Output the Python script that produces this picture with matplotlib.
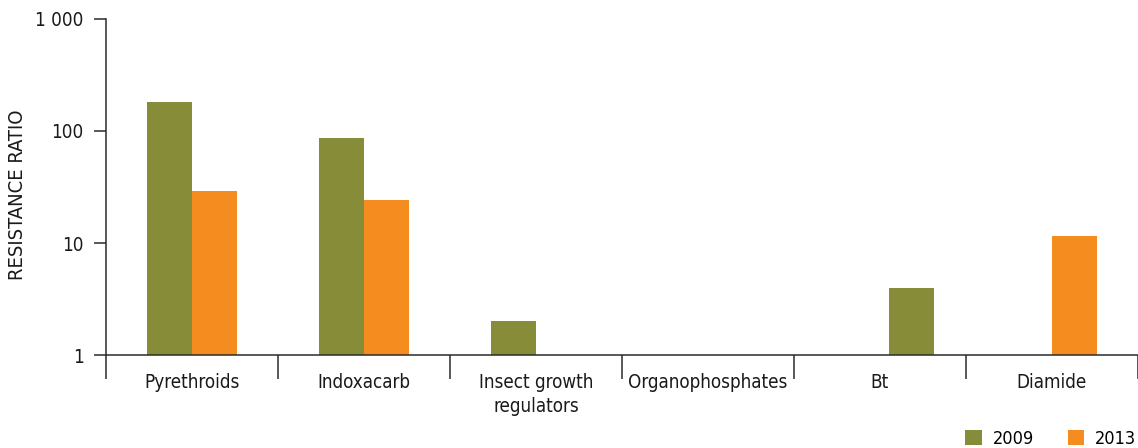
import numpy as np
import matplotlib
matplotlib.use("Agg")
import matplotlib.pyplot as plt
from matplotlib.patches import Patch
from matplotlib.ticker import FixedLocator, NullLocator, NullFormatter

# Resistance ratios by insecticide class (NaN = not measured)
categories = ["Pyrethroids", "Indoxacarb", "Insect growth\nregulators",
              "Organophosphates", "Bt", "Diamide"]
ratio_2009 = [180, 87, 2.0, np.nan, 4.0, np.nan]
ratio_2013 = [29, 24, np.nan, np.nan, np.nan, 11.5]
series_labels = ["2009", "2013"]
ytick_values = [1, 10, 100, 1000]
ytick_labels = ["1", "10", "100", "1 000"]

GREEN = "#868C38"
ORANGE = "#F58C20"
AXIS = "#2b2b2b"
TEXT = "#1a1a1a"
FS = 13.5

plt.rcParams["font.family"] = ["DejaVu Sans"]
plt.rcParams["font.stretch"] = "condensed"

W, H = 1138, 448
fig = plt.figure(figsize=(W / 100, H / 100), dpi=100)
left, right, top, bottom = 106, 1138, 19, 355
cat_px = 173.2
ax = fig.add_axes([left / W, (H - bottom) / H, (right - left) / W, (bottom - top) / H])

ax.set_yscale("log")
ax.set_ylim(1, 1000)
ax.set_xlim(0, (right - left) / cat_px)

bar_w = 0.263
centers = np.arange(len(categories)) + 0.5
# left edge of each 2009 bar relative to the category centre, in bar widths
slot_2009 = [-1, -1, -1, -1, 0.2, -1]

for i, (c, v) in enumerate(zip(centers, ratio_2009)):
    if np.isfinite(v):
        ax.bar(c + slot_2009[i] * bar_w, v - 1, bottom=1, width=bar_w,
               align="edge", color=GREEN, linewidth=0)
for c, v in zip(centers, ratio_2013):
    if np.isfinite(v):
        ax.bar(c, v - 1, bottom=1, width=bar_w, align="edge", color=ORANGE, linewidth=0)

for s in ["top", "right"]:
    ax.spines[s].set_visible(False)
for s in ["left", "bottom"]:
    ax.spines[s].set_color(AXIS)
    ax.spines[s].set_linewidth(1.1)

# y axis
ax.yaxis.set_major_locator(FixedLocator(ytick_values))
ax.set_yticklabels(ytick_labels)
ax.yaxis.set_minor_locator(NullLocator())
ax.yaxis.set_minor_formatter(NullFormatter())
ax.tick_params(axis="y", which="major", length=9, width=1.1, color=AXIS,
               pad=7, labelsize=FS, labelcolor=TEXT)

# x axis: separators as major ticks, category names as minor tick labels
ax.set_xticks(np.arange(len(categories) + 1))
ax.set_xticklabels([""] * (len(categories) + 1))
ax.set_xticks(centers, minor=True)
ax.set_xticklabels(categories, minor=True)
ax.tick_params(axis="x", which="major", length=17, width=1.1, color=AXIS, direction="out")
ax.tick_params(axis="x", which="minor", length=0, pad=13, labelsize=FS,
               labelcolor=TEXT)
for lbl in ax.get_xticklabels(minor=True):
    lbl.set_linespacing(1.35)

fig.text(18 / W, 1 - 195 / H, "RESISTANCE RATIO", rotation=90, ha="center",
         va="center", fontsize=14.5, color=TEXT)

handles = [Patch(facecolor=GREEN, edgecolor="none"),
           Patch(facecolor=ORANGE, edgecolor="none")]
fig.legend(handles, series_labels, loc="lower right", bbox_to_anchor=(1.0, -0.004),
           ncol=2, frameon=False, fontsize=13, handlelength=0.9, handleheight=0.9,
           handletextpad=0.6, columnspacing=1.9, borderaxespad=0.0, borderpad=0.1)

fig.savefig("out.png", dpi=100)
